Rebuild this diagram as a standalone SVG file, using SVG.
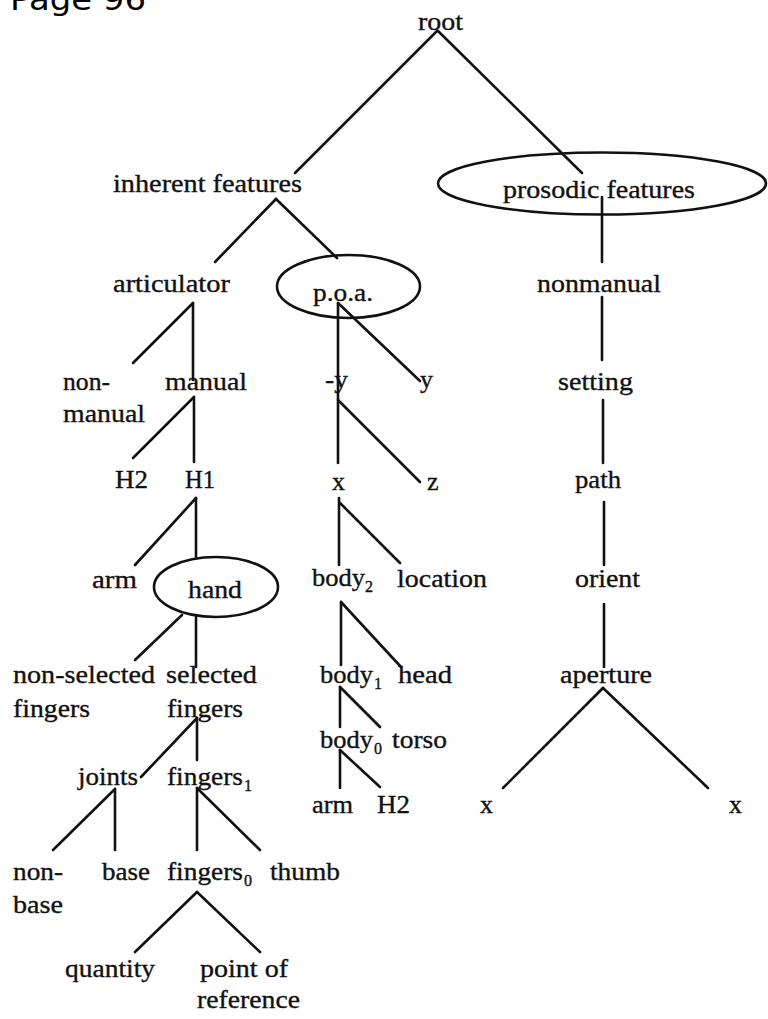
<svg xmlns="http://www.w3.org/2000/svg" width="768" height="1019" viewBox="0 0 768 1019">
<style>
text{font-family:"Liberation Serif","Times New Roman",serif;font-size:26px;fill:#111;stroke:#111;stroke-width:0.35}
.sub{font-size:16px}
.pg{font-family:"DejaVu Sans","Liberation Sans",sans-serif;font-size:30px;fill:#000;stroke:none}
.el{fill:none;stroke:#111;stroke-width:2.6}
#connectors line{stroke:#111;stroke-width:2.6;stroke-linecap:round}
</style>
<rect width="768" height="1019" fill="#fff"/>
<text class="pg" x="10" y="10" textLength="136" lengthAdjust="spacingAndGlyphs">Page 96</text>
<g id="connectors">
<line x1="437" y1="31" x2="295" y2="173"/>
<line x1="438" y1="31" x2="582" y2="173"/>
<line x1="602" y1="197" x2="602" y2="262"/>
<line x1="276" y1="199" x2="215" y2="262"/>
<line x1="276" y1="199" x2="337" y2="258"/>
<line x1="193" y1="303" x2="133" y2="363"/>
<line x1="193" y1="303" x2="193" y2="380"/>
<line x1="338" y1="303" x2="338" y2="392"/>
<line x1="338" y1="303" x2="420" y2="381"/>
<line x1="338" y1="392" x2="338" y2="463"/>
<line x1="338" y1="400" x2="420" y2="482"/>
<line x1="602" y1="297" x2="602" y2="360"/>
<line x1="603" y1="400" x2="603" y2="463"/>
<line x1="194" y1="397" x2="133" y2="458"/>
<line x1="194" y1="397" x2="194" y2="462"/>
<line x1="604" y1="502" x2="604" y2="565"/>
<line x1="196" y1="498" x2="135" y2="565"/>
<line x1="196" y1="498" x2="196" y2="557"/>
<line x1="339" y1="498" x2="339" y2="565"/>
<line x1="340" y1="503" x2="400" y2="563"/>
<line x1="604" y1="604" x2="604" y2="667"/>
<line x1="182" y1="615" x2="135" y2="660"/>
<line x1="196" y1="617" x2="196" y2="667"/>
<line x1="341" y1="602" x2="341" y2="665"/>
<line x1="341" y1="602" x2="401" y2="667"/>
<line x1="340" y1="687" x2="340" y2="727"/>
<line x1="340" y1="687" x2="380" y2="727"/>
<line x1="603" y1="688" x2="503" y2="788"/>
<line x1="603" y1="688" x2="708" y2="788"/>
<line x1="340" y1="750" x2="340" y2="788"/>
<line x1="340" y1="750" x2="380" y2="787"/>
<line x1="197" y1="718" x2="141" y2="777"/>
<line x1="197" y1="718" x2="197" y2="760"/>
<line x1="115" y1="789" x2="53" y2="850"/>
<line x1="115" y1="789" x2="115" y2="850"/>
<line x1="197" y1="788" x2="197" y2="850"/>
<line x1="197" y1="788" x2="260" y2="850"/>
<line x1="197" y1="892" x2="135" y2="952"/>
<line x1="197" y1="892" x2="260" y2="952"/>
</g>
<g id="n-root"><text x="418" y="30" textLength="45" lengthAdjust="spacingAndGlyphs">root</text></g>
<g id="n-inherent"><text x="113" y="192" textLength="189" lengthAdjust="spacingAndGlyphs">inherent features</text></g>
<g id="n-prosodic"><ellipse class="el" cx="602" cy="183.5" rx="164" ry="31"/><text x="503" y="198" textLength="192" lengthAdjust="spacingAndGlyphs">prosodic features</text></g>
<g id="n-articulator"><text x="113" y="292" textLength="117" lengthAdjust="spacingAndGlyphs">articulator</text></g>
<g id="n-poa"><ellipse class="el" cx="348.5" cy="286.5" rx="71.5" ry="31.5"/><text x="313" y="301" textLength="60" lengthAdjust="spacingAndGlyphs">p.o.a.</text></g>
<g id="n-nonmanual-r"><text x="537" y="292" textLength="124" lengthAdjust="spacingAndGlyphs">nonmanual</text></g>
<g id="n-nonmanual-l"><text x="63" y="390" textLength="47" lengthAdjust="spacingAndGlyphs">non-</text><text x="63" y="422" textLength="82" lengthAdjust="spacingAndGlyphs">manual</text></g>
<g id="n-manual"><text x="165" y="390" textLength="82" lengthAdjust="spacingAndGlyphs">manual</text></g>
<g id="n-minus-y"><text x="325" y="388" textLength="23" lengthAdjust="spacingAndGlyphs">-y</text></g>
<g id="n-y"><text x="420" y="388">y</text></g>
<g id="n-setting"><text x="558" y="390" textLength="75" lengthAdjust="spacingAndGlyphs">setting</text></g>
<g id="n-H2"><text x="115" y="488" textLength="33" lengthAdjust="spacingAndGlyphs">H2</text></g>
<g id="n-H1"><text x="185" y="488" textLength="30" lengthAdjust="spacingAndGlyphs">H1</text></g>
<g id="n-x"><text x="332" y="490">x</text></g>
<g id="n-z"><text x="427" y="490">z</text></g>
<g id="n-path"><text x="575" y="488" textLength="46" lengthAdjust="spacingAndGlyphs">path</text></g>
<g id="n-arm"><text x="92" y="588" textLength="45" lengthAdjust="spacingAndGlyphs">arm</text></g>
<g id="n-hand"><ellipse class="el" cx="216" cy="587" rx="62" ry="30"/><text x="188" y="598" textLength="54" lengthAdjust="spacingAndGlyphs">hand</text></g>
<g id="n-body2"><text x="312" y="586" textLength="53" lengthAdjust="spacingAndGlyphs">body</text><text class="sub" x="365" y="592">2</text></g>
<g id="n-location"><text x="397" y="587" textLength="90" lengthAdjust="spacingAndGlyphs">location</text></g>
<g id="n-orient"><text x="575" y="587" textLength="65" lengthAdjust="spacingAndGlyphs">orient</text></g>
<g id="n-nonselected"><text x="13" y="683" textLength="142" lengthAdjust="spacingAndGlyphs">non-selected</text><text x="13" y="717" textLength="77" lengthAdjust="spacingAndGlyphs">fingers</text></g>
<g id="n-selected"><text x="166" y="683" textLength="91" lengthAdjust="spacingAndGlyphs">selected</text><text x="167" y="717" textLength="76" lengthAdjust="spacingAndGlyphs">fingers</text></g>
<g id="n-body1"><text x="320" y="683" textLength="53" lengthAdjust="spacingAndGlyphs">body</text><text class="sub" x="374" y="689">1</text></g>
<g id="n-head"><text x="398" y="683" textLength="54" lengthAdjust="spacingAndGlyphs">head</text></g>
<g id="n-aperture"><text x="560" y="683" textLength="92" lengthAdjust="spacingAndGlyphs">aperture</text></g>
<g id="n-body0"><text x="320" y="748" textLength="53" lengthAdjust="spacingAndGlyphs">body</text><text class="sub" x="374" y="754">0</text></g>
<g id="n-torso"><text x="392" y="748" textLength="55" lengthAdjust="spacingAndGlyphs">torso</text></g>
<g id="n-arm2"><text x="312" y="813" textLength="41" lengthAdjust="spacingAndGlyphs">arm</text></g>
<g id="n-H2b"><text x="377" y="813" textLength="33" lengthAdjust="spacingAndGlyphs">H2</text></g>
<g id="n-x-left"><text x="480" y="813">x</text></g>
<g id="n-x-right"><text x="729" y="813">x</text></g>
<g id="n-joints"><text x="78" y="785" textLength="60" lengthAdjust="spacingAndGlyphs">joints</text></g>
<g id="n-fingers1"><text x="167" y="785" textLength="76" lengthAdjust="spacingAndGlyphs">fingers</text><text class="sub" x="244" y="791">1</text></g>
<g id="n-nonbase"><text x="13" y="880" textLength="50" lengthAdjust="spacingAndGlyphs">non-</text><text x="13" y="913" textLength="50" lengthAdjust="spacingAndGlyphs">base</text></g>
<g id="n-base"><text x="102" y="880" textLength="48" lengthAdjust="spacingAndGlyphs">base</text></g>
<g id="n-fingers0"><text x="167" y="880" textLength="76" lengthAdjust="spacingAndGlyphs">fingers</text><text class="sub" x="244" y="886">0</text></g>
<g id="n-thumb"><text x="270" y="880" textLength="70" lengthAdjust="spacingAndGlyphs">thumb</text></g>
<g id="n-quantity"><text x="65" y="977" textLength="90" lengthAdjust="spacingAndGlyphs">quantity</text></g>
<g id="n-point"><text x="200" y="977" textLength="88" lengthAdjust="spacingAndGlyphs">point of</text><text x="197" y="1008" textLength="103" lengthAdjust="spacingAndGlyphs">reference</text></g>
</svg>
